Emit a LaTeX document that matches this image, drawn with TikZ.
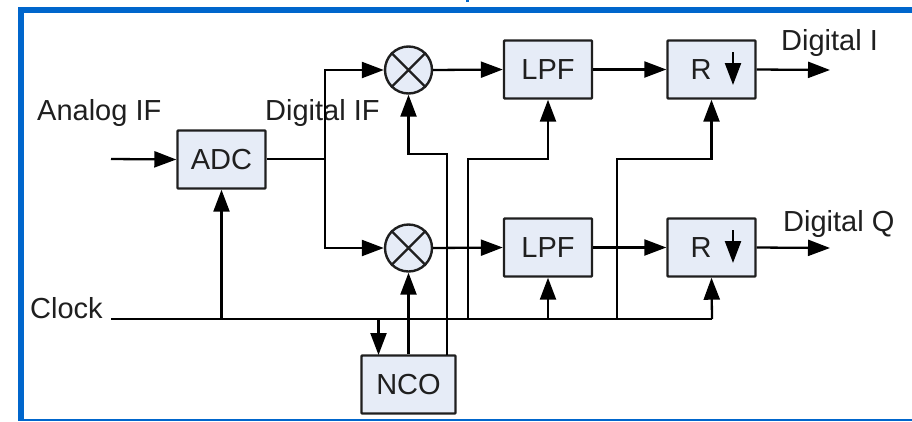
\documentclass[tikz,border=0pt]{standalone}
\usepackage{fontspec}
\setmainfont{Liberation Sans}
\usetikzlibrary{arrows.meta}
\definecolor{frameblue}{HTML}{0066CC}
\definecolor{boxfill}{HTML}{E6ECF7}
\definecolor{inkc}{HTML}{1F1F1F}
\tikzset{
  x=1pt,y=-1pt,
  blockbox/.style={draw=inkc,fill=boxfill,line width=2.4pt,rounded corners=0.8pt,minimum width=88pt,minimum height=58pt,inner sep=0pt,font=\fontsize{29}{31}\selectfont,text=inkc},
  mixer/.style={draw=inkc,fill=boxfill,line width=2.4pt,circle,minimum size=47pt,inner sep=0pt},
  wire/.style={draw=black,line width=2.3pt},
  sig/.style={wire,-{Triangle[length=22pt,width=16pt]}},
  lbl/.style={font=\fontsize{29}{31}\selectfont,text=inkc,inner sep=0pt,anchor=base west},
}
\begin{document}
\begin{tikzpicture}
\useasboundingbox (0,0) rectangle (912,421);
\fill[white] (0,0) rectangle (912,421);
% frame
\fill[frameblue] (18,7) rectangle (912,12.5);
\fill[frameblue] (18,7) rectangle (24,421);
\fill[frameblue] (18,418.5) rectangle (912,421);
\fill[frameblue] (466,0) rectangle (468.5,1.5);
% labels
\node[lbl] (tanalog) at (37,120) {Analog IF};
\node[lbl] (tdigif) at (265,120) {Digital IF};
\node[lbl] (tclock) at (30,318) {Clock};
\node[lbl] (tdigi) at (781,50) {Digital I};
\node[lbl] (tdigq) at (783,231) {Digital Q};
% free ends and junctions
\coordinate (inL) at (111,159);
\coordinate (clkL) at (111,319);
\coordinate (clkR) at (712,319);
\coordinate (split) at (325,159);
\coordinate (outI) at (830,70);
\coordinate (outQ) at (830,248);
% blocks
\node[blockbox] (adc) at (221.5,159.5) {ADC};
\node[blockbox] (lpf1) at (548,69.5) {LPF};
\node[blockbox] (lpf2) at (548,247.5) {LPF};
\node[blockbox,text width=88pt,align=left] (r1) at (711.5,69.5) {\hspace{23pt}R};
\node[blockbox,text width=88pt,align=left] (r2) at (711.5,247.5) {\hspace{23pt}R};
\node[blockbox,minimum width=94pt] (nco) at (408.5,384.5) {NCO};
\node[mixer] (m1) at (408.5,70) {};
\node[mixer] (m2) at (408.5,248) {};
\foreach \m in {m1,m2}{
  \draw[draw=inkc,line width=2.2pt] (\m.45) -- (\m.225) (\m.135) -- (\m.315);
}
% wires
\draw[sig] (inL) -- (adc.west);
\draw[wire] (adc.east |- split) -- (split);
\draw[sig] (split) |- (m1.west);
\draw[sig] (split) |- (m2.west);
\draw[sig] (m1.east) -- (lpf1.west);
\draw[sig] (m2.east) -- (lpf2.west);
\draw[sig] (lpf1.east) -- (r1.west);
\draw[sig] (lpf2.east) -- (r2.west);
\draw[sig] (r1.east) -- (outI);
\draw[sig] (r2.east) -- (outQ);
\draw[wire] (clkL) -- (clkR);
\draw[sig] (adc.south |- clkL) -- (adc.south);
\draw[sig] (378.5,319) -- (378.5,355);
\draw[sig] (nco.north) -- (m2.south);
\draw[sig] (447,355) -- (447,154) -| (m1.south);
\draw[sig] (468,319) -- (468,159) -| (lpf1.south);
\draw[sig] (617,319) -- (617,159) -| (r1.south);
\draw[sig] (lpf2.south |- clkL) -- (lpf2.south);
\draw[sig] (clkR) -- (r2.south);
% decimation arrows
\draw[sig] (733,52) -- (733,85);
\draw[sig] (733,230) -- (733,263);
\end{tikzpicture}
\end{document}
